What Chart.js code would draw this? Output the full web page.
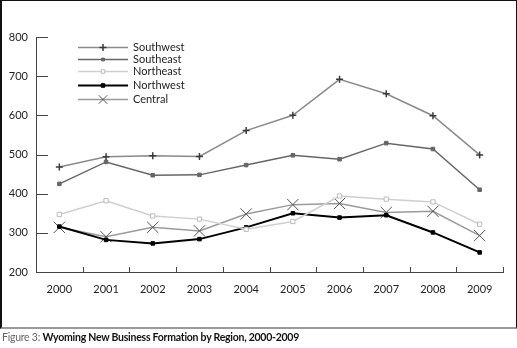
<!DOCTYPE html>
<html>
<head>
<meta charset="utf-8">
<script src="https://cdn.jsdelivr.net/npm/chart.js@4.4.1/dist/chart.umd.min.js"></script>
<style>
  body { margin: 0; background: #fff; font-family: Lato, "Open Sans", sans-serif; }
  #frame { position: absolute; left: 0; top: 0; height: 326px; width: 514px;
           border-top: 1px solid #111; border-left: 2px solid #111; border-right: 1px solid #111;
           border-bottom: 2px solid #9a9a9a; }
  #wrap { position: absolute; left: 0; top: 0; width: 517px; height: 328px; }
  #caption { position: absolute; left: 2px; top: 331px; font-size: 10.5px; letter-spacing: -0.25px; color: #111; white-space: nowrap; }
  #caption span { color: #666; }
</style>
</head>
<body>
<div id="wrap"><canvas id="myChart" width="517" height="328"></canvas></div>
<div id="frame"></div>
<div id="caption"><span>Figure 3:</span> <b>Wyoming New Business Formation by Region, 2000-2009</b></div>
<script>
var years = ['2000', '2001', '2002', '2003', '2004', '2005', '2006', '2007', '2008', '2009'];

var southwest = [468, 494, 497, 495, 561, 600, 692, 655, 599, 499];
var southeast = [425, 481, 447, 448, 473, 498, 488, 529, 514, 410];
var northeast = [347, 382, 343, 335, 309, 329, 394, 386, 379, 322];
var northwest = [316, 282, 273, 284, 314, 350, 339, 345, 301, 250];
var central = [314, 290, 314, 305, 348, 372, 375, 352, 355, 293];

var yTicks = [200, 300, 400, 500, 600, 700, 800];

// legend rows drawn by hand inside the plot
var legendRows = [47, 59, 71, 85, 99];

var insideTicks = {
  id: 'insideTicks',
  afterDraw: function(chart) {
    var ctx = chart.ctx;
    var area = chart.chartArea;
    var x = chart.scales.x, y = chart.scales.y;
    ctx.save();
    ctx.strokeStyle = '#444';
    ctx.lineWidth = 1;
    ctx.beginPath();
    yTicks.forEach(function(v) {
      if (v == 200) return;
      var py = Math.round(y.getPixelForValue(v)) + 0.5;
      ctx.moveTo(area.left, py);
      ctx.lineTo(area.left + 12, py);
    });
    for (var i = 1; i <= years.length; i++) {
      var px = i == years.length ? area.right : x.getPixelForValue(i - 0.5);
      px = Math.round(px) + 0.5;
      ctx.moveTo(px, area.bottom);
      ctx.lineTo(px, area.bottom - 5);
    }
    ctx.stroke();

    // legend
    chart.data.datasets.forEach(function(ds, i) {
      var ly = legendRows[i] + 0.5;
      ctx.strokeStyle = ds.borderColor;
      ctx.lineWidth = ds.borderWidth;
      ctx.beginPath();
      ctx.moveTo(78, ly);
      ctx.lineTo(128, ly);
      ctx.stroke();
      ctx.fillStyle = ds.pointBackgroundColor;
      ctx.strokeStyle = ds.pointBorderColor;
      ctx.lineWidth = ds.pointBorderWidth;
      Chart.helpers.drawPoint(ctx, {
        pointStyle: ds.pointStyle,
        radius: ds.legendRadius,
        borderWidth: ds.pointBorderWidth
      }, 103, ly);
      ctx.fillStyle = '#222';
      ctx.font = '11px Lato, "Open Sans", sans-serif';
      ctx.textBaseline = 'middle';
      ctx.fillText(ds.label, 133, ly);
    });
    ctx.restore();
  }
};

var ctx = document.getElementById('myChart').getContext('2d');
var chart = new Chart(ctx, {
  type: 'line',
  data: {
    labels: years,
    datasets: [
      { label: 'Southwest', data: southwest, borderColor: '#8a8a8a', borderWidth: 1.5,
        pointStyle: 'cross', pointRadius: 3.5, legendRadius: 3.5, pointBorderColor: '#3a3a3a', pointBackgroundColor: '#3a3a3a', pointBorderWidth: 1.5 },
      { label: 'Southeast', data: southeast, borderColor: '#666', borderWidth: 1.5,
        pointStyle: 'rect', pointRadius: 2.5, legendRadius: 2, pointBorderColor: '#666', pointBackgroundColor: '#666', pointBorderWidth: 1 },
      { label: 'Northeast', data: northeast, borderColor: '#cfcfcf', borderWidth: 1.5,
        pointStyle: 'rect', pointRadius: 3, legendRadius: 2.5, pointBorderColor: '#bbb', pointBackgroundColor: '#fff', pointBorderWidth: 1 },
      { label: 'Northwest', data: northwest, borderColor: '#000', borderWidth: 2,
        pointStyle: 'rect', pointRadius: 2.5, legendRadius: 2.5, pointBorderColor: '#000', pointBackgroundColor: '#000', pointBorderWidth: 1 },
      { label: 'Central', data: central, borderColor: '#9a9a9a', borderWidth: 1.5,
        pointStyle: 'crossRot', pointRadius: 8, legendRadius: 6, pointBorderColor: '#555', pointBackgroundColor: '#555', pointBorderWidth: 1 }
    ]
  },
  options: {
    responsive: false,
    animation: false,
    layout: { padding: { left: 0, top: 37, right: 14, bottom: 0 } },
    plugins: { legend: { display: false }, tooltip: { enabled: false } },
    elements: { line: { tension: 0 } },
    scales: {
      x: {
        offset: true,
        afterFit: function(s) { s.height = 56; },
        grid: { display: false, drawTicks: false },
        border: { display: true, color: '#444', width: 1 },
        ticks: { color: '#222', padding: 11, font: { family: 'Lato, "Open Sans", sans-serif', size: 11 } }
      },
      y: {
        min: 200, max: 800,
        afterFit: function(s) { s.width = 36; },
        afterBuildTicks: function(s) { s.ticks = yTicks.map(function(v) { return { value: v }; }); },
        grid: { display: false, drawTicks: false },
        border: { display: true, color: '#444', width: 1 },
        ticks: { color: '#222', padding: 8, font: { family: 'Lato, "Open Sans", sans-serif', size: 11 } }
      }
    }
  },
  plugins: [insideTicks]
});
</script>
</body>
</html>
